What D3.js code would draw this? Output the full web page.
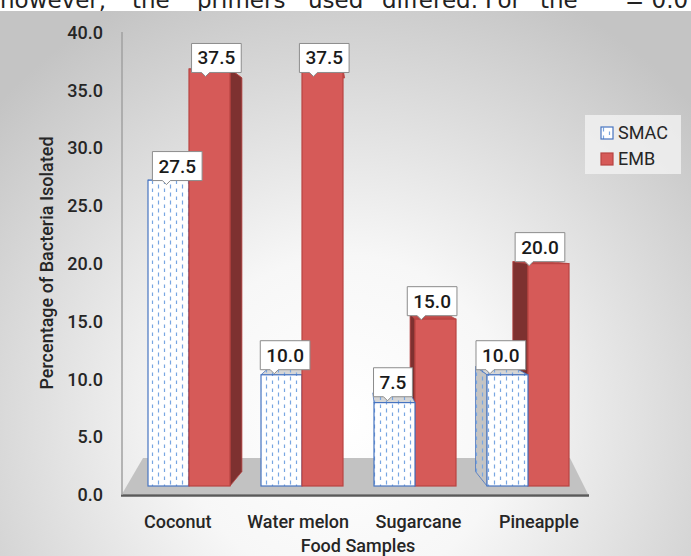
<!DOCTYPE html>
<html><head><meta charset="utf-8">
<script src="https://cdn.jsdelivr.net/npm/d3@7"></script>
<style>html,body{margin:0;padding:0;background:#fff;}svg{display:block;}</style>
</head><body>
<svg id="chart" width="691" height="556"></svg>
<script>
const categories = ["Coconut", "Water melon", "Sugarcane", "Pineapple"];
const seriesNames = ["SMAC", "EMB"];
const smacValues = [27.5, 10.0, 7.5, 10.0];
const embValues = [37.5, 37.5, 15.0, 20.0];
const yTicks = [0, 5, 10, 15, 20, 25, 30, 35, 40];
const topWords = [["however,", 0], ["the", 132], ["primers", 197], ["used", 308], ["differed.", 382], ["For", 485], ["the", 540], ["= 0.0", 625]];

const svg = d3.select("#chart");
const W = 691, H = 556;
const defs = svg.append("defs");

// background gradient
const rg = defs.append("radialGradient").attr("id", "bg").attr("gradientUnits", "userSpaceOnUse")
  .attr("cx", 345).attr("cy", 420).attr("r", 470);
rg.append("stop").attr("offset", 0).attr("stop-color", "#ffffff");
rg.append("stop").attr("offset", 0.35).attr("stop-color", "#f7f7f7");
rg.append("stop").attr("offset", 1).attr("stop-color", "#c4c4c4");

function makePattern(id, bg) {
  const p = defs.append("pattern").attr("id", id).attr("patternUnits", "userSpaceOnUse")
    .attr("width", 12).attr("height", 8);
  p.append("rect").attr("width", 12).attr("height", 8).attr("fill", bg);
  p.append("line").attr("x1", 2.5).attr("x2", 2.5).attr("y1", 0.5).attr("y2", 4.5)
    .attr("stroke", "#78a6e2").attr("stroke-width", 1.2);
  p.append("line").attr("x1", 8.5).attr("x2", 8.5).attr("y1", 4.5).attr("y2", 8.5)
    .attr("stroke", "#78a6e2").attr("stroke-width", 1.2);
}
makePattern("dashFront", "#ffffff");
makePattern("dashSide", "#c4c4c4");
makePattern("dashTop", "#d6d6d6");

// top text strip
svg.append("rect").attr("x", 0).attr("y", 0).attr("width", W).attr("height", H).attr("fill", "#ffffff");
svg.selectAll("text.top").data(topWords).join("text").attr("class", "top")
  .attr("x", d => d[1]).attr("y", 7.5)
  .attr("font-family", "DejaVu Sans").attr("font-size", 23).attr("fill", "#222")
  .text(d => d[0]);

// chart background
svg.append("rect").attr("x", 0).attr("y", 11).attr("width", W).attr("height", H - 11).attr("fill", "url(#bg)");

// scales
const yAxisScale = d3.scaleLinear().domain([0, 40]).range([495, 32.5]);
const yBar = d3.scaleLinear().domain([0, 40]).range([486, 41.2]);
const x0 = d3.scaleBand().domain(categories).range([132.5, 584.5]).padding(0);
const x1 = d3.scaleBand().domain(seriesNames).range([15.5, 97.5]).padding(0);

// perspective
const VX = 361, VY = 229, KX = 0.909, KY = 0.944;
const back = (x, y) => [VX + (x - VX) * KX, VY + (y - VY) * KY];

// floor
const floorL = 122, floorR = 588, floorF = 494, floorB = 458;
svg.append("path").attr("d", d3.line()([[floorL, floorF], [floorR, floorF], [570, floorB], [143, floorB]]) + "Z")
  .attr("fill", "#c2c2c2");
svg.append("line").attr("x1", floorL - 1).attr("x2", floorR + 1).attr("y1", 495.5).attr("y2", 495.5)
  .attr("stroke", "#5a5a5a").attr("stroke-width", 2.5);

// y axis
svg.append("line").attr("x1", 122).attr("x2", 122).attr("y1", 32).attr("y2", 495)
  .attr("stroke", "#a0a0a0").attr("stroke-width", 1.5);
svg.selectAll("text.ytick").data(yTicks).join("text").attr("class", "ytick")
  .attr("x", 103).attr("y", d => yAxisScale(d)).attr("dy", "0.35em").attr("text-anchor", "end")
  .attr("font-family", "Roboto").attr("font-weight", 500).attr("font-size", 18).attr("fill", "#262626")
  .text(d => d3.format(".1f")(d));

// bars data
const bars = [];
categories.forEach((c, i) => {
  [["SMAC", smacValues[i]], ["EMB", embValues[i]]].forEach(([s, v]) => {
    const xl = x0(c) + x1(s), xr = xl + x1.bandwidth();
    bars.push({cat: c, series: s, value: v, xl, xr, yt: yBar(v), yb: yBar(0)});
  });
});
bars.sort((a, b) => Math.abs((b.xl + b.xr) / 2 - VX) - Math.abs((a.xl + a.xr) / 2 - VX));

const style = {
  SMAC: {front: "url(#dashFront)", side: "url(#dashSide)", top: "url(#dashTop)", stroke: "#4774c0"},
  EMB: {front: "#d65a58", side: "#7e3130", top: "#c24a48", stroke: "#b84442"}
};
const poly = pts => d3.line()(pts) + "Z";
const gBars = svg.append("g");
bars.forEach(b => {
  const st = style[b.series];
  const g = gBars.append("g");
  const ftl = [b.xl, b.yt], ftr = [b.xr, b.yt], fbl = [b.xl, b.yb], fbr = [b.xr, b.yb];
  const btl = back(...ftl), btr = back(...ftr), bbl = back(...fbl), bbr = back(...fbr);
  // top
  g.append("path").attr("d", poly([ftl, ftr, btr, btl])).attr("fill", st.top)
    .attr("stroke", st.stroke).attr("stroke-width", 0.8);
  // side
  if (b.xr < VX && btr[0] - ftr[0] > 2.5) {
    g.append("path").attr("d", poly([ftr, btr, bbr, fbr])).attr("fill", st.side)
      .attr("stroke", st.stroke).attr("stroke-width", 0.8);
  } else if (b.xl > VX && ftl[0] - btl[0] > 2.5) {
    g.append("path").attr("d", poly([ftl, btl, bbl, fbl])).attr("fill", st.side)
      .attr("stroke", st.stroke).attr("stroke-width", 0.8);
  }
  // front
  g.append("rect").attr("x", b.xl).attr("y", b.yt).attr("width", b.xr - b.xl).attr("height", b.yb - b.yt)
    .attr("fill", st.front).attr("stroke", st.stroke).attr("stroke-width", 1.2);
});

// data labels
const gLab = svg.append("g");
bars.forEach(b => {
  const cx = (b.xl + b.xr) / 2;
  const mx = VX + (cx - VX) * (1 + KX) / 2;
  const my = VY + (b.yt - VY) * (1 + KY) / 2;
  const g = gLab.append("g");
  const t = g.append("text").attr("x", mx).attr("y", my - 9).attr("text-anchor", "middle")
    .attr("font-family", "Roboto").attr("font-weight", 500).attr("font-size", 19).attr("fill", "#1a1a1a")
    .text(d3.format(".1f")(b.value));
  const tw = t.node().getComputedTextLength();
  const bw = tw + 12, bh = 29;
  const left = mx - bw / 2, right = mx + bw / 2, bot = my - 1, top = bot - bh;
  const px = left + 14;
  g.insert("path", "text").attr("d", d3.line()([[left, top], [right, top], [right, bot], [px + 4, bot], [px, bot + 4], [px - 4, bot], [left, bot]]) + "Z")
    .attr("fill", "#ffffff").attr("stroke", "#8c8c8c").attr("stroke-width", 1);
});

// category labels
svg.selectAll("text.cat").data(categories).join("text").attr("class", "cat")
  .attr("x", d => VX + (x0(d) + x0.bandwidth() / 2 - VX) * 1.065).attr("y", 528)
  .attr("text-anchor", "middle").attr("font-family", "Roboto").attr("font-weight", 500)
  .attr("font-size", 18).attr("fill", "#262626").text(d => d);

svg.append("text").attr("x", 358).attr("y", 552).attr("text-anchor", "middle")
  .attr("font-family", "Roboto").attr("font-weight", 500).attr("font-size", 18).attr("fill", "#262626")
  .text("Food Samples");

svg.append("text").attr("transform", "translate(53,263) rotate(-90)").attr("text-anchor", "middle")
  .attr("font-family", "Roboto").attr("font-weight", 500).attr("font-size", 18).attr("fill", "#262626")
  .text("Percentage of Bacteria Isolated");

// legend
const lg = svg.append("g");
lg.append("rect").attr("x", 585).attr("y", 115).attr("width", 96).attr("height", 59).attr("fill", "#f2f2f2").attr("opacity", 0.8);
const legItems = lg.selectAll("g.li").data(seriesNames).join("g").attr("class", "li")
  .attr("transform", (d, i) => `translate(601,${127 + i * 26})`);
legItems.append("rect").attr("width", 12).attr("height", 12)
  .attr("fill", d => style[d].front).attr("stroke", d => style[d].stroke).attr("stroke-width", 1.2);
legItems.append("text").attr("x", 17).attr("y", 6).attr("dy", "0.36em")
  .attr("font-family", "Roboto").attr("font-size", 18).attr("fill", "#262626").text(d => d);
</script>
</body></html>
